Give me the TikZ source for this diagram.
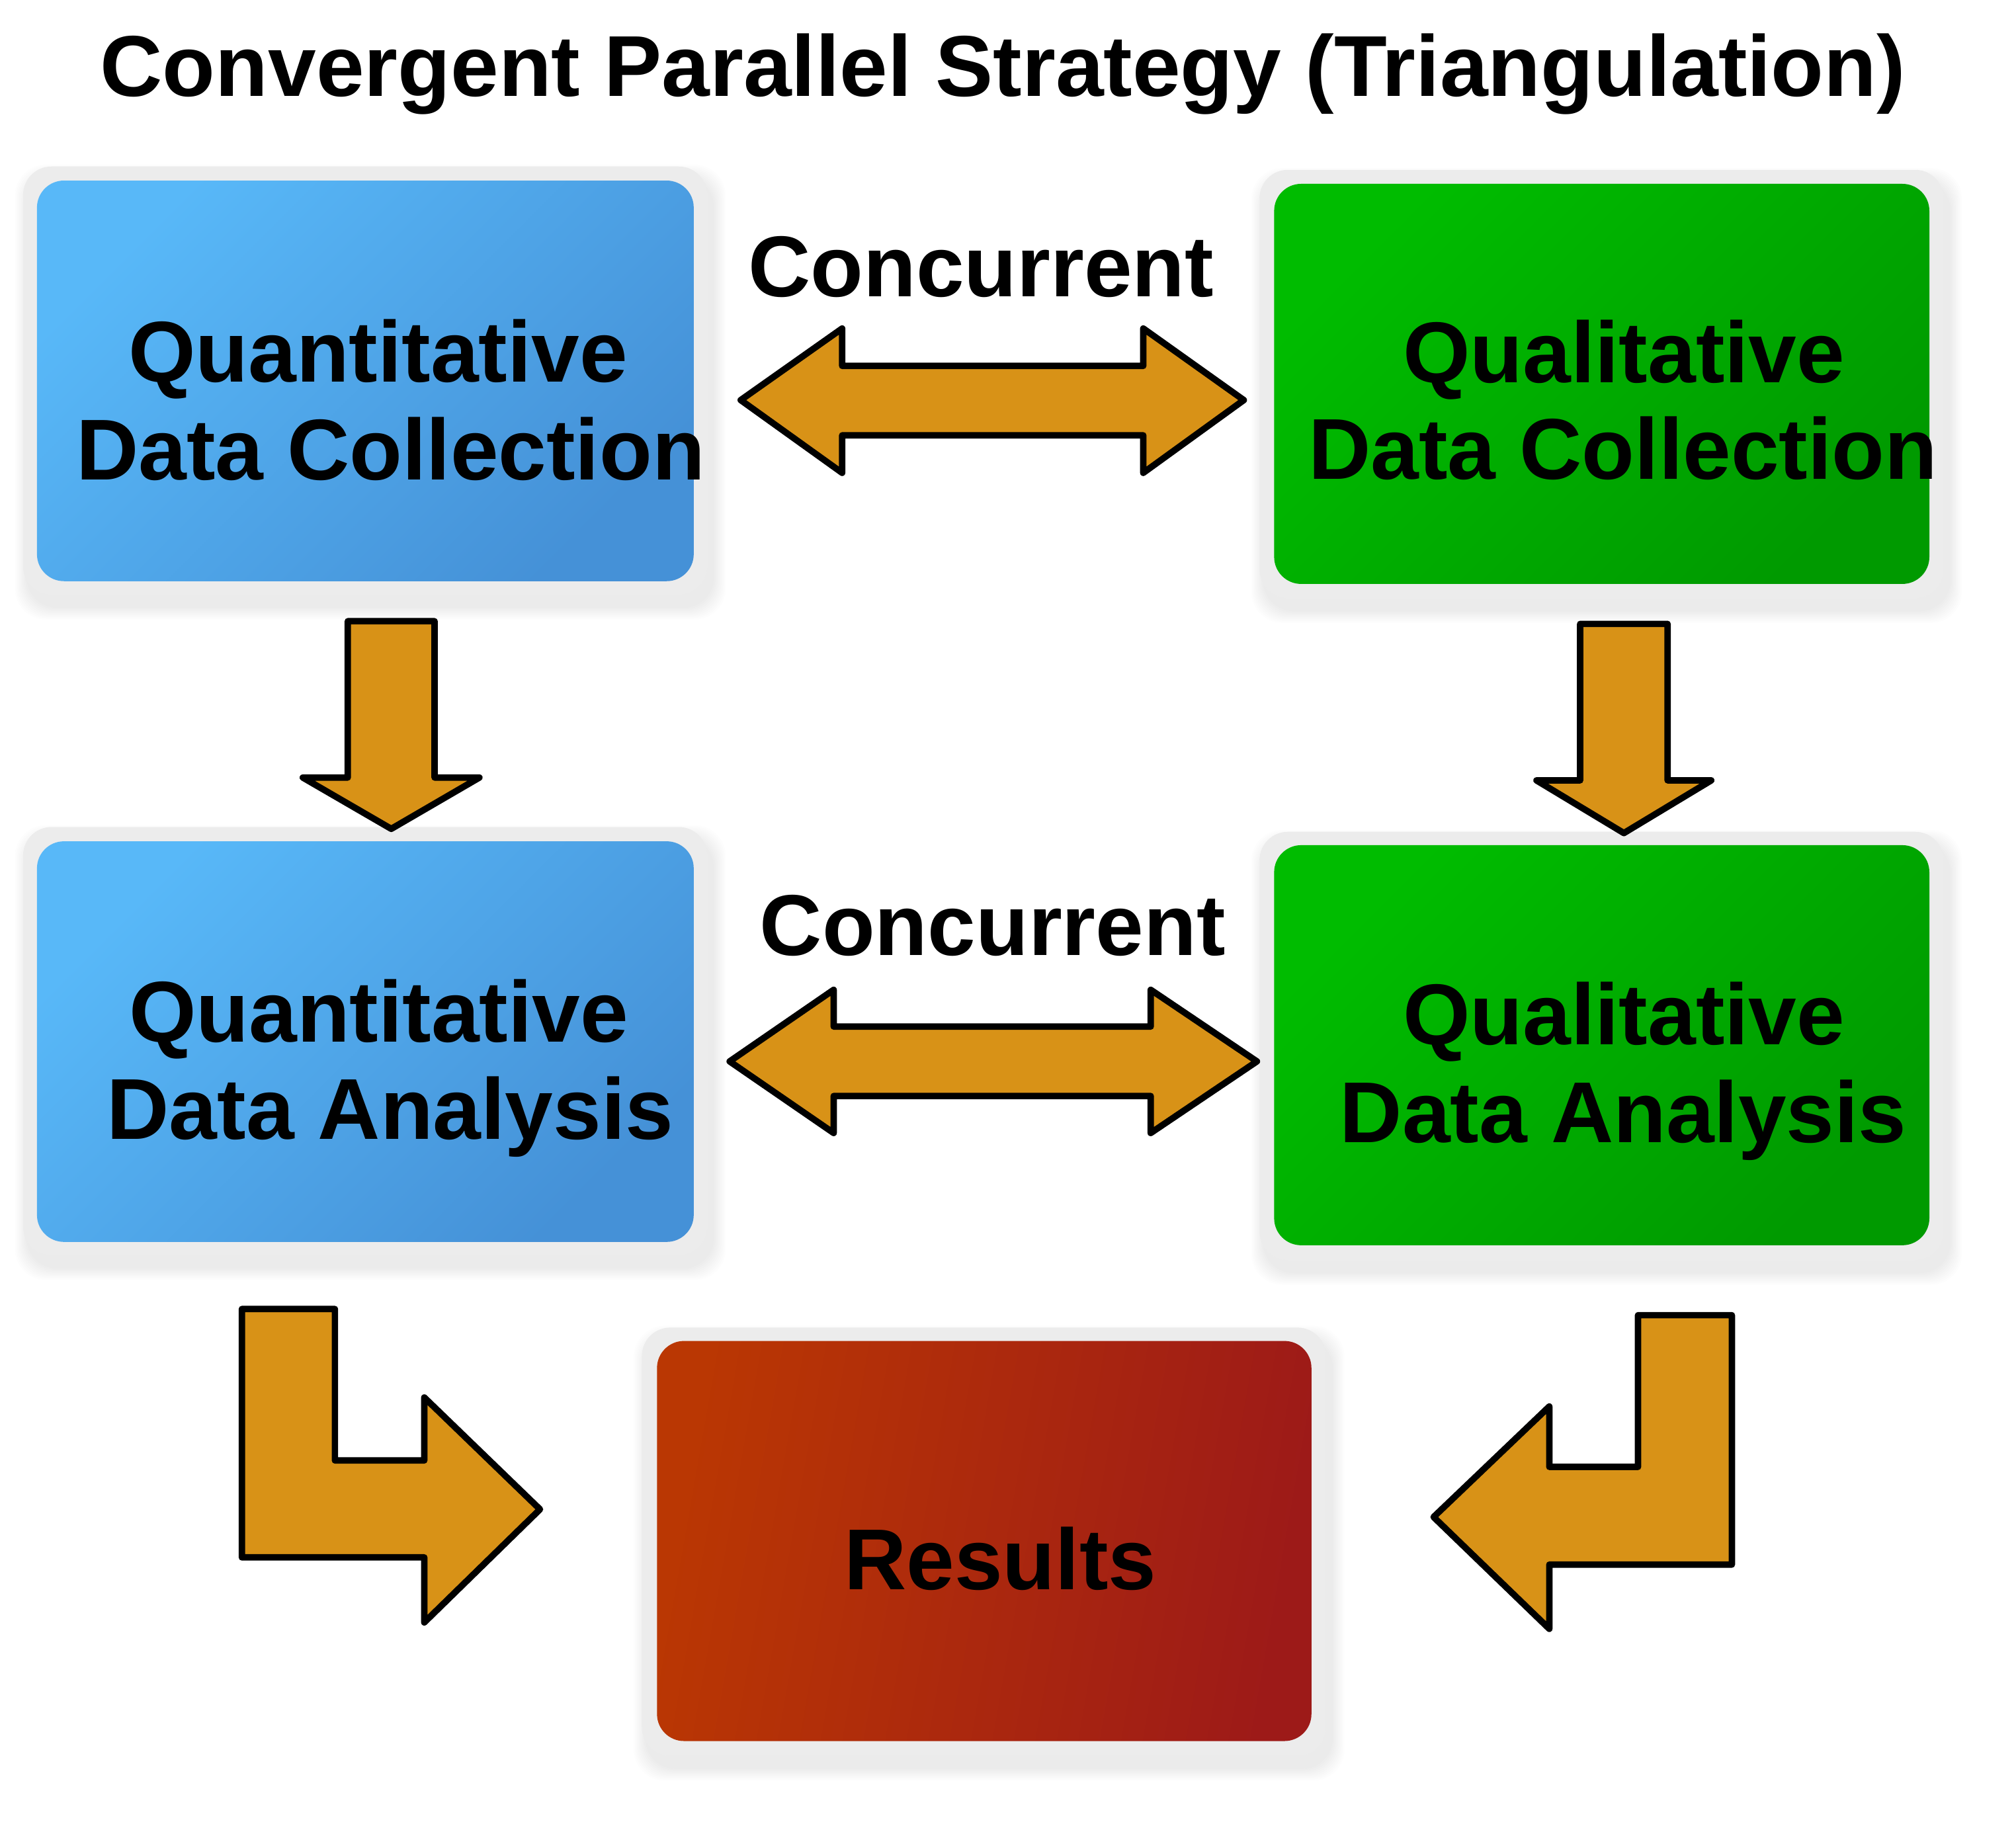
\documentclass[tikz,border=0pt]{standalone}
\usepackage{fontspec}
\setmainfont{Liberation Sans}
\definecolor{panelgray}{HTML}{ECECEC}
\definecolor{bluelt}{HTML}{58B8F8}
\definecolor{bluedk}{HTML}{4591D7}
\definecolor{greenlt}{HTML}{00BC00}
\definecolor{greendk}{HTML}{009A00}
\definecolor{redlt}{HTML}{BA3703}
\definecolor{redmid}{HTML}{B2300A}
\definecolor{reddk}{HTML}{9D1A18}
\definecolor{arrowfill}{HTML}{D89217}
\pgfdeclarelayer{bg}
\pgfsetlayers{bg,main}
\begin{document}
\begin{tikzpicture}[x=0.5pt,y=-0.5pt,
  outerbox/.style={fill=panelgray, rounded corners=11pt, minimum width=266pt, minimum height=166.5pt, inner sep=0pt},
  bluebox/.style={rounded corners=10.5pt, minimum width=255.4pt, minimum height=155.8pt, inner sep=0pt, top color=bluelt, bottom color=bluedk, shading angle=45},
  greenbox/.style={rounded corners=10.5pt, minimum width=254.8pt, minimum height=155.6pt, inner sep=0pt, top color=greenlt, bottom color=greendk, shading angle=45},
  redbox/.style={rounded corners=10.5pt, minimum width=254.5pt, minimum height=155.6pt, inner sep=0pt, left color=redlt, middle color=redmid, right color=reddk, shading angle=80},
  lbl/.style={anchor=base, inner sep=0pt, font=\fontsize{33.6pt}{40pt}\selectfont\bfseries},
  blockarrow/.style={draw=black, line width=2.5pt, line join=round, fill=arrowfill},
  shadowlayer/.style={fill=black, fill opacity=0.008, rounded corners=12pt}
]
\useasboundingbox (0,0) rectangle (1568,1420);

% panels
\node[outerbox] (o1) at (284,296) {};
\node[bluebox]  (b1) at (284.15,296.25) {};
\node[outerbox] (o2) at (1245.65,298.6) {};
\node[greenbox] (b2) at (1245.8,298.6) {};
\node[outerbox] (o3) at (284,809.8) {};
\node[bluebox]  (b3) at (284.15,810.2) {};
\node[outerbox] (o4) at (1245.65,813.5) {};
\node[greenbox] (b4) at (1245.8,813) {};
\node[outerbox] (o5) at (765.25,1199.15) {};
\node[redbox]   (b5) at (765.5,1198.65) {};

\begin{pgfonlayer}{bg}
\foreach \n in {o1,o2,o3,o4,o5}{
  \foreach \k in {1,...,10}{
    \fill[shadowlayer] ([shift={(4-\k,9-\k)}]\n.north west) rectangle ([shift={(4+\k,9+\k)}]\n.south east);
  }
}
\end{pgfonlayer}

% texts
\node[lbl] (title) at (780,74.6) {Convergent Parallel Strategy (Triangulation)};
\node[lbl] (c1) at (763,230.6) {Concurrent};
\node[lbl] (c2) at (772,743.3) {Concurrent};
\node[lbl] (t1a) at (294,297.3) {Quantitative};
\node[lbl] (t1b) at (303.8,373) {Data Collection};
\node[lbl] (t2a) at (1263,297.5) {Qualitative};
\node[lbl] (t2b) at (1262.3,372.6) {Data Collection};
\node[lbl] (t3a) at (294.5,810.5) {Quantitative};
\node[lbl] (t3b) at (303.5,886.2) {Data Analysis};
\node[lbl] (t4a) at (1263,812.5) {Qualitative};
\node[lbl] (t4b) at (1262.5,888.5) {Data Analysis};
\node[lbl] (t5) at (778,1236.3) {Results};

% double arrows
\draw[blockarrow] (576.1,311.2) -- (655,255.5) -- (655,284.6) -- (889.2,284.6) -- (889.2,255.5) -- (967.4,311.2) -- (889.2,367.8) -- (889.2,338.6) -- (655,338.6) -- (655,367.8) -- cycle;
\draw[blockarrow] (567.5,825.6) -- (648.4,769.9) -- (648.4,798.5) -- (895,798.5) -- (895,769.9) -- (977.6,825.6) -- (895,881.3) -- (895,852.5) -- (648.4,852.5) -- (648.4,881.3) -- cycle;

% down arrows
\draw[blockarrow] (270.5,483.2) -- (338,483.2) -- (338,604.8) -- (372.9,604.8) -- (304.3,644.7) -- (235.5,604.8) -- (270.5,604.8) -- cycle;
\draw[blockarrow] (1229,485.3) -- (1297,485.3) -- (1297,607) -- (1331,607) -- (1263,648) -- (1195,607) -- (1229,607) -- cycle;

% bent arrows
\draw[blockarrow] (188.1,1018.2) -- (260.5,1018.2) -- (260.5,1136) -- (330,1136) -- (330,1087) -- (420,1174) -- (330,1262) -- (330,1211.4) -- (188.1,1211.4) -- cycle;
\draw[blockarrow] (1347,1023) -- (1274,1023) -- (1274,1141) -- (1205,1141) -- (1205,1094) -- (1115,1180) -- (1205,1267) -- (1205,1217) -- (1347,1217) -- cycle;
\end{tikzpicture}
\end{document}
